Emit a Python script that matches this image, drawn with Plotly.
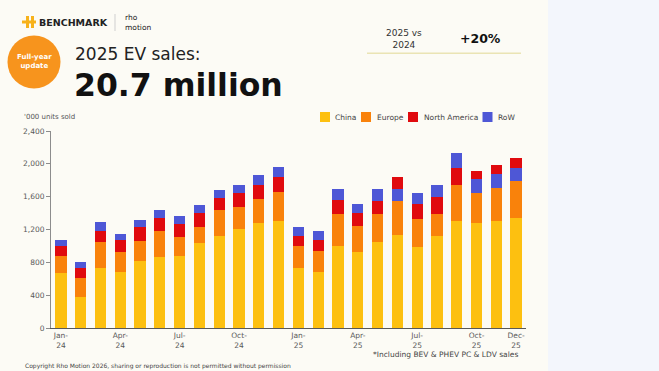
import plotly.graph_objects as go

# ---------------- data ----------------
months = ["Jan-24", "Feb-24", "Mar-24", "Apr-24", "May-24", "Jun-24",
          "Jul-24", "Aug-24", "Sep-24", "Oct-24", "Nov-24", "Dec-24",
          "Jan-25", "Feb-25", "Mar-25", "Apr-25", "May-25", "Jun-25",
          "Jul-25", "Aug-25", "Sep-25", "Oct-25", "Nov-25", "Dec-25"]
china = [667, 383, 729, 684, 818, 867, 879, 1038, 1119, 1201, 1274, 1306,
         733, 680, 997, 928, 1042, 1131, 989, 1119, 1306, 1274, 1306, 1335]
europe = [216, 224, 313, 236, 240, 317, 228, 187, 313, 273, 297, 346,
          269, 260, 387, 313, 342, 411, 338, 273, 435, 374, 403, 456]
north_america = [114, 118, 142, 147, 171, 151, 155, 179, 155, 167, 175, 191,
                 118, 134, 171, 155, 167, 142, 183, 208, 212, 102, 110, 126]
row = [81, 77, 110, 77, 85, 102, 98, 90, 98, 106, 118, 118,
       110, 106, 138, 110, 138, 151, 138, 138, 175, 167, 167, 159]
tick_months = ["Jan-24", "Apr-24", "Jul-24", "Oct-24", "Jan-25", "Apr-25", "Jul-25", "Oct-25", "Dec-25"]
tick_text = ["Jan-<br>24", "Apr-<br>24", "Jul-<br>24", "Oct-<br>24", "Jan-<br>25",
             "Apr-<br>25", "Jul-<br>25", "Oct-<br>25", "Dec-<br>25"]
y_ticks = [0, 400, 800, 1200, 1600, 2000, 2400]
series_names = ["China", "Europe", "North America", "RoW"]

# ---------------- style ----------------
C_CHINA = "#FDC010"
C_EUROPE = "#F9820B"
C_NA = "#E00A0E"
C_ROW = "#4E57D6"
colors = [C_CHINA, C_EUROPE, C_NA, C_ROW]
CREAM = "#FCFBF5"
BLUE_BG = "#F3F6FC"
FONT = "DejaVu Sans"

W, H = 659, 371
L, R, T, B = 51, 526, 131, 328  # plot area in pixels


def px(x):
    return (x - L) / (R - L)


def py(y):
    return (B - y) / (B - T)


fig = go.Figure()

# segments stacked by size within each bar (largest at bottom)
na_low = [n if n >= r else 0 for n, r in zip(north_america, row)]
row_low = [r if r > n else 0 for n, r in zip(north_america, row)]
na_up = [n if n < r else 0 for n, r in zip(north_america, row)]
row_up = [r if r <= n else 0 for n, r in zip(north_america, row)]

for name, vals, col in [("China", china, C_CHINA), ("Europe", europe, C_EUROPE),
                        ("North America", na_low, C_NA), ("RoW", row_low, C_ROW),
                        ("North America", na_up, C_NA), ("RoW", row_up, C_ROW)]:
    fig.add_trace(go.Bar(x=months, y=vals, name=name, marker_color=col,
                         marker_line_width=0, showlegend=False))

shapes = []
annotations = []

# background: cream slide with pale blue strip at right
shapes.append(dict(type="rect", xref="paper", yref="paper", layer="below",
                   x0=px(548), x1=px(W + 5), y0=py(W), y1=py(-5),
                   fillcolor=BLUE_BG, line_width=0))

# logo
gold = "#F7B21B"
for (x0, y0, x1, y1) in [(26, 16, 29, 28), (31, 16, 34, 28), (22, 20.5, 36, 23.5)]:
    shapes.append(dict(type="rect", xref="paper", yref="paper", x0=px(x0), x1=px(x1),
                       y0=py(y1), y1=py(y0), fillcolor=gold, line_width=0))
annotations.append(dict(text="<b>BENCHMARK</b>", x=px(37), y=py(22.5), xanchor="left",
                        yanchor="middle", font=dict(family=FONT, size=9.5, color="#222222")))
shapes.append(dict(type="line", xref="paper", yref="paper", x0=px(115), x1=px(115),
                   y0=py(14), y1=py(31), line=dict(color="#CFCFCF", width=1)))
annotations.append(dict(text="rho<br>motion", x=px(123), y=py(22.5), xanchor="left",
                        yanchor="middle", align="left",
                        font=dict(family=FONT, size=7.5, color="#222222")))

# orange badge
shapes.append(dict(type="circle", xref="paper", yref="paper", x0=px(7.5), x1=px(60.5),
                   y0=py(88.5), y1=py(35.5), fillcolor="#F7941D", line_width=0))
annotations.append(dict(text="<b>Full-year<br>update</b>", x=px(34), y=py(62), xanchor="center",
                        yanchor="middle", font=dict(family=FONT, size=7, color="white")))

# headline
annotations.append(dict(text="2025 EV sales:", x=px(73), y=py(53.5), xanchor="left",
                        yanchor="middle", font=dict(family=FONT, size=17, color="#222222")))
annotations.append(dict(text="<b>20.7 million</b>", x=px(72), y=py(85), xanchor="left",
                        yanchor="middle", font=dict(family=FONT, size=31.5, color="#111111")))

# comparison box
annotations.append(dict(text="2025 vs<br>2024", x=px(403.5), y=py(38.5), xanchor="center",
                        yanchor="middle", font=dict(family=FONT, size=9, color="#333333")))
annotations.append(dict(text="<b>+20%</b>", x=px(480), y=py(39), xanchor="center",
                        yanchor="middle", font=dict(family=FONT, size=12.5, color="#111111")))
shapes.append(dict(type="line", xref="paper", yref="paper", x0=px(367), x1=px(521),
                   y0=py(53.3), y1=py(53.3), line=dict(color="#EAE4B4", width=1.5)))

# unit label
annotations.append(dict(text="'000 units sold", x=px(22), y=py(117), xanchor="left",
                        yanchor="middle", font=dict(family=FONT, size=7, color="#555555")))

# legend
legend_pos = [(320, 333), (361, 375), (408, 421.5), (482.5, 496)]
for (sx, tx), name, col in zip(legend_pos, series_names, colors):
    shapes.append(dict(type="rect", xref="paper", yref="paper", x0=px(sx), x1=px(sx + 10),
                       y0=py(122), y1=py(112), fillcolor=col, line_width=0))
    annotations.append(dict(text=name, x=px(tx), y=py(117), xanchor="left", yanchor="middle",
                            font=dict(family=FONT, size=7.5, color="#444444")))

# footnotes
annotations.append(dict(text="*Including BEV & PHEV PC & LDV sales", x=px(520), y=py(354),
                        xanchor="right", yanchor="middle",
                        font=dict(family=FONT, size=7.5, color="#444444")))
annotations.append(dict(text="Copyright Rho Motion 2026, sharing or reproduction is not permitted without permission",
                        x=px(23), y=py(365.5), xanchor="left", yanchor="middle",
                        font=dict(family=FONT, size=6, color="#444444")))

for a in annotations:
    a.update(xref="paper", yref="paper", showarrow=False)

fig.update_layout(
    width=W, height=H,
    margin=dict(l=L, r=W - R, t=T, b=H - B, pad=0),
    paper_bgcolor=CREAM, plot_bgcolor="rgba(0,0,0,0)",
    barmode="stack", bargap=0.43,
    font=dict(family=FONT, color="#595959"),
    shapes=shapes, annotations=annotations,
    showlegend=False,
    xaxis=dict(type="category", showline=True, linecolor="#595959", linewidth=1.2,
               ticks="", tickmode="array", tickvals=tick_months, ticktext=tick_text,
               tickangle=0, tickfont=dict(size=7.5, color="#595959"), showgrid=False,
               fixedrange=True),
    yaxis=dict(range=[0, 2400], showline=True, linecolor="#8C8C8C", linewidth=1,
               ticks="outside", ticklen=4, tickcolor="#8C8C8C", tickvals=y_ticks,
               tickformat=",", tickfont=dict(size=7.5, color="#595959"), showgrid=False,
               zeroline=False, fixedrange=True),
)

fig.write_html("out.html", config={"displayModeBar": False},
               post_script="document.body.style.margin='0';document.body.style.overflow='hidden';")
